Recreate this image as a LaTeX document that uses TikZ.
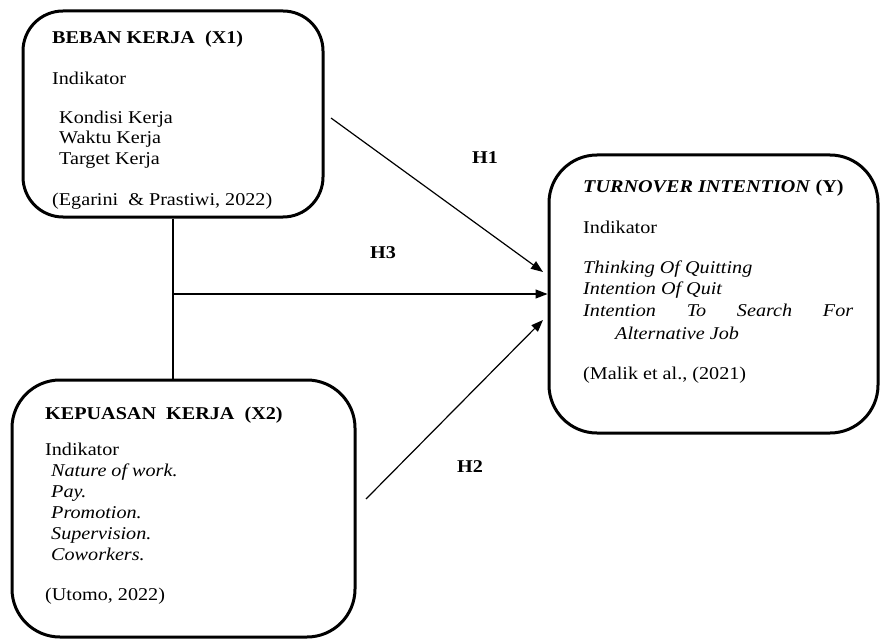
\documentclass[tikz,border=0pt]{standalone}
\usepackage{fontspec}
\setmainfont[FakeStretch=1.12]{Liberation Serif}
\usetikzlibrary{arrows.meta}
\begin{document}
\begin{tikzpicture}[x=1pt,y=-1pt,
  box/.style={draw, line width=3pt, rounded corners=#1, inner sep=0pt},
  box/.default=48pt,
  txt/.style={anchor=base west, inner sep=0pt, font=\fontsize{18pt}{21pt}\selectfont},
  txtb/.style={txt, font=\fontsize{18pt}{21pt}\selectfont\bfseries},
  txti/.style={txt, font=\fontsize{18pt}{21pt}\selectfont\itshape},
  lab/.style={inner sep=0pt, font=\fontsize{18pt}{21pt}\selectfont\bfseries},
  conn/.style={line width=1.2pt},
  arr/.style={conn, -{Triangle[length=12pt,width=9pt]}}]
\useasboundingbox (0,0) rectangle (880,639);
\fill[white] (0,0) rectangle (880,639);

% boxes
\node[box=40pt, minimum width=300pt, minimum height=206pt] (X1) at (173,114) {};
\node[box, minimum width=343pt, minimum height=257pt] (X2) at (183.5,508.5) {};
\node[box, minimum width=329pt, minimum height=278pt] (Y) at (713.5,294) {};

% X1 text
\node[txtb] (x1a) at (52,44) {BEBAN KERJA\ \ (X1)};
\node[txt] (x1b) at (52,85) {Indikator};
\node[txt] (x1c) at (59,124) {Kondisi Kerja};
\node[txt] (x1d) at (59,144) {Waktu Kerja};
\node[txt] (x1e) at (59,165) {Target Kerja};
\node[txt] (x1f) at (52,205) {(Egarini\ \ \& Prastiwi, 2022)};

% Y text
\node[txtb] (ya) at (583,193) {\textit{TURNOVER INTENTION} (Y)};
\node[txt] (yb) at (583,233) {Indikator};
\node[txti] (yc) at (583,273) {Thinking Of Quitting};
\node[txti] (yd) at (583,294) {Intention Of Quit};
\node[txti] (ye) at (583,316) {\makebox[270pt][s]{Intention To Search For}};
\node[txti] (yf) at (615,339) {Alternative Job};
\node[txt] (yg) at (583,379) {(Malik et al., (2021)};

% X2 text
\node[txtb] (x2a) at (45,419) {KEPUASAN\ \ KERJA\ \ (X2)};
\node[txt] (x2b) at (45,455) {Indikator};
\node[txti] (x2c) at (51,476) {Nature of work.};
\node[txti] (x2d) at (51,497) {Pay.};
\node[txti] (x2e) at (51,518) {Promotion.};
\node[txti] (x2f) at (51,539) {Supervision.};
\node[txti] (x2g) at (51,560) {Coworkers.};
\node[txt] (x2h) at (45,600) {(Utomo, 2022)};

% labels
\node[lab] (h1) at (485,158) {H1};
\node[lab] (h3) at (383,253) {H3};
\node[lab] (h2) at (470,467) {H2};

% connectors
\coordinate (j) at (X1.south |- Y.west);
\coordinate (h1s) at (331,118);
\coordinate (h1e) at (543,272);
\coordinate (h2s) at (366,499);
\coordinate (h2e) at (543,320);
\draw[conn] (X1.south) -- (X1.south |- X2.north);
\draw[arr] (j) -- (Y.west);
\draw[arr] (h1s) -- (h1e);
\draw[arr] (h2s) -- (h2e);
\end{tikzpicture}
\end{document}
